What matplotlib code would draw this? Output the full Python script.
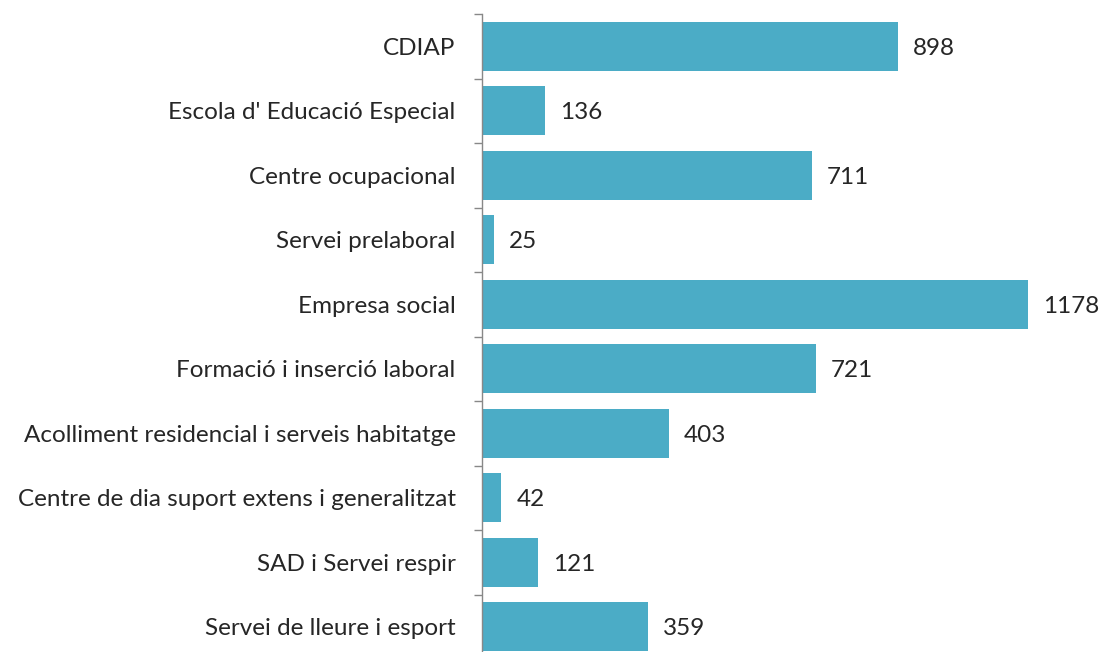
import matplotlib
matplotlib.use("Agg")
import matplotlib.pyplot as plt
import numpy as np

categories = ["CDIAP", "Escola d' Educació Especial", "Centre ocupacional", "Servei prelaboral",
              "Empresa social", "Formació i inserció laboral",
              "Acolliment residencial i serveis habitatge",
              "Centre de dia suport extens i generalitzat", "SAD i Servei respir",
              "Servei de lleure i esport"]
values = [898, 136, 711, 25, 1178, 721, 403, 42, 121, 359]

plt.rcParams['font.family'] = ['Lato', 'DejaVu Sans']
W, H = 1102, 652
fig = plt.figure(figsize=(W/100, H/100), dpi=100)
ax = fig.add_axes([482/W, -7/H, (W-482)/W, 645/H])

y = np.arange(len(categories))
ax.barh(y, values, height=0.76, color='#4BACC6')
ax.set_ylim(len(categories)-0.5, -0.5)
ax.set_xlim(0, (W-482)/0.4635)

for yi, v in zip(y, values):
    ax.text(v + 15/0.4635, yi + 0.03, str(v), va='center', ha='left', fontsize=17.5, color='#262626')

ax.set_yticks(y)
ax.set_yticklabels(categories, fontsize=17.5, color='#262626')
ax.tick_params(axis='y', which='major', length=0, pad=19)
ax.set_yticks(np.arange(-0.5, len(categories), 1), minor=True)
ax.tick_params(axis='y', which='minor', length=6, color='#888888', width=1)
ax.set_xticks([])
for s in ['top', 'right', 'bottom']:
    ax.spines[s].set_visible(False)
ax.spines['left'].set_color('#888888')
ax.spines['left'].set_linewidth(1)

fig.savefig('out.png', dpi=100)
